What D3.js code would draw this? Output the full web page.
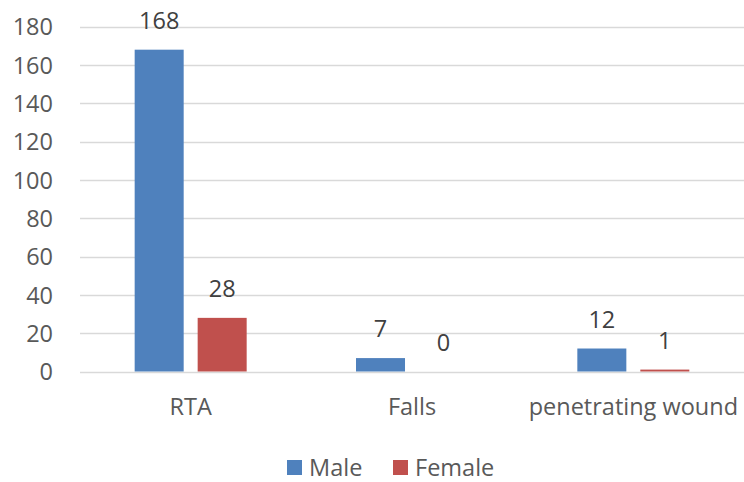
<!DOCTYPE html>
<html><head><meta charset="utf-8">
<script src="https://cdn.jsdelivr.net/npm/d3@7"></script>
<style>body{margin:0;background:#fff}</style>
</head><body>
<svg id="c" width="744" height="482"></svg>
<script>
const categories = ["RTA", "Falls", "penetrating wound"];
const seriesNames = ["Male", "Female"];
const maleValues = [168, 7, 12];
const femaleValues = [28, 0, 1];
const yTicks = [0, 20, 40, 60, 80, 100, 120, 140, 160, 180];
const colors = ["#4f81bd", "#c0504d"];

(function () {
const svg = d3.select("#c");
const font = "'Open Sans', sans-serif";
const fs = 23.5;
const textColor = "#595959";
const mLeft = 80, mRight = 744, mTop = 26.7, mBottom = 371.5;

const y = d3.scaleLinear().domain([0, 180]).range([mBottom, mTop]);
const x0 = d3.scaleBand().domain(categories).range([mLeft, mRight]).padding(0);
const groupW = 112;
const x1 = d3.scaleBand().domain(seriesNames).range([0, groupW]).paddingInner(0.222);
const groupOffset = (x0.bandwidth() - groupW) / 2;

// gridlines
svg.append("g").selectAll("line").data(yTicks).join("line")
  .attr("x1", mLeft).attr("x2", mRight)
  .attr("y1", d => Math.round(y(d)) + 0.5).attr("y2", d => Math.round(y(d)) + 0.5)
  .attr("stroke", "#d9d9d9").attr("stroke-width", 1.3);

// y axis labels
const yAxis = d3.axisLeft(y).tickValues(yTicks).tickSize(0).tickPadding(0);
const ya = svg.append("g").attr("transform", `translate(53,0)`).call(yAxis);
ya.select(".domain").remove();
ya.selectAll("text").attr("font-family", font).attr("font-size", fs).attr("fill", textColor).attr("dy", "0.35em");

const data = categories.map((c, i) => ({cat: c, vals: [maleValues[i], femaleValues[i]]}));

const groups = svg.append("g").selectAll("g").data(data).join("g")
  .attr("transform", d => `translate(${x0(d.cat) + groupOffset},0)`);

groups.selectAll("rect").data(d => d.vals.map((v, j) => ({v, s: seriesNames[j], j}))).join("rect")
  .attr("x", d => x1(d.s)).attr("width", x1.bandwidth())
  .attr("y", d => y(d.v)).attr("height", d => y(0) - y(d.v))
  .attr("fill", d => colors[d.j]);

groups.selectAll("text").data(d => d.vals.map((v, j) => ({v, s: seriesNames[j], j}))).join("text")
  .attr("x", d => x1(d.s) + x1.bandwidth() / 2)
  .attr("y", d => y(d.v) - 29)
  .attr("dy", "0.35em")
  .attr("text-anchor", "middle")
  .attr("font-family", font).attr("font-size", fs).attr("fill", "#404040")
  .text(d => d.v);

// x axis labels
const xAxis = d3.axisBottom(x0).tickSize(0).tickPadding(0);
const xa = svg.append("g").attr("transform", `translate(0,407)`).call(xAxis);
xa.select(".domain").remove();
xa.selectAll("text").attr("font-family", font).attr("font-size", fs).attr("fill", textColor).attr("dy", "0.35em");

// legend
const legendX = [287, 393];
const lg = svg.append("g").selectAll("g").data(seriesNames).join("g")
  .attr("transform", (d, i) => `translate(${legendX[i]},460)`);
lg.append("rect").attr("width", 15).attr("height", 15).attr("fill", (d, i) => colors[i]);
lg.append("text").attr("x", 22).attr("y", 8).attr("dy", "0.35em")
  .attr("font-family", font).attr("font-size", fs).attr("fill", textColor).text(d => d);
})();
</script>
</body></html>
